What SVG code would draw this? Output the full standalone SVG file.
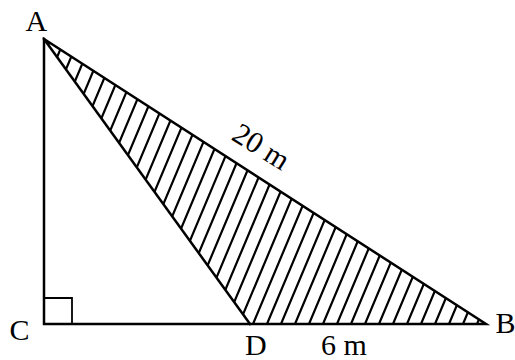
<svg xmlns="http://www.w3.org/2000/svg" width="515" height="360" viewBox="0 0 515 360">
<style>
.edge{fill:none;stroke:#000;stroke-width:2.5;stroke-linejoin:miter;stroke-linecap:square}
.hatch{fill:none;stroke:#000;stroke-width:2.2}
.lbl{font-family:"Liberation Serif","Times New Roman",serif;font-size:30px;fill:#000}
</style>
<defs>
<clipPath id="tri"><polygon points="44,39 250,324 486,324"/></clipPath>
</defs>
<rect width="515" height="360" fill="#fff"/>
<g id="hatching" clip-path="url(#tri)">
<path class="hatch" d="M-69,324L52.8,34M-55,324L66.8,34M-41,324L80.8,34M-27,324L94.8,34M-13,324L108.8,34M1,324L122.8,34M15,324L136.8,34M29,324L150.8,34M43,324L164.8,34M57,324L178.8,34M71,324L192.8,34M85,324L206.8,34M99,324L220.8,34M113,324L234.8,34M127,324L248.8,34M141,324L262.8,34M155,324L276.8,34M169,324L290.8,34M183,324L304.8,34M197,324L318.8,34M211,324L332.8,34M225,324L346.8,34M239,324L360.8,34M253,324L374.8,34M267,324L388.8,34M281,324L402.8,34M295,324L416.8,34M309,324L430.8,34M323,324L444.8,34M337,324L458.8,34M351,324L472.8,34M365,324L486.8,34M379,324L500.8,34M393,324L514.8,34M407,324L528.8,34M421,324L542.8,34M435,324L556.8,34M449,324L570.8,34M463,324L584.8,34M477,324L598.8,34"/>
</g>
<g id="connectors">
<path class="edge" d="M44,39L44,324L486,324Z"/>
<path class="edge" d="M44,39L250,324"/>
<path class="edge" style="stroke-width:1.8" d="M44,298L72,298L72,324"/>
</g>
<g id="node-A"><text class="lbl" x="25.5" y="31">A</text></g>
<g id="node-C"><text class="lbl" x="9.5" y="340">C</text></g>
<g id="node-D"><text class="lbl" x="245" y="354.5">D</text></g>
<g id="node-B"><text class="lbl" x="495.5" y="333">B</text></g>
<g id="label-6m"><text class="lbl" x="321" y="354.5">6 m</text></g>
<g id="label-20m"><text class="lbl" x="256" y="155" text-anchor="middle" transform="rotate(32 256 155)">20 m</text></g>
</svg>
